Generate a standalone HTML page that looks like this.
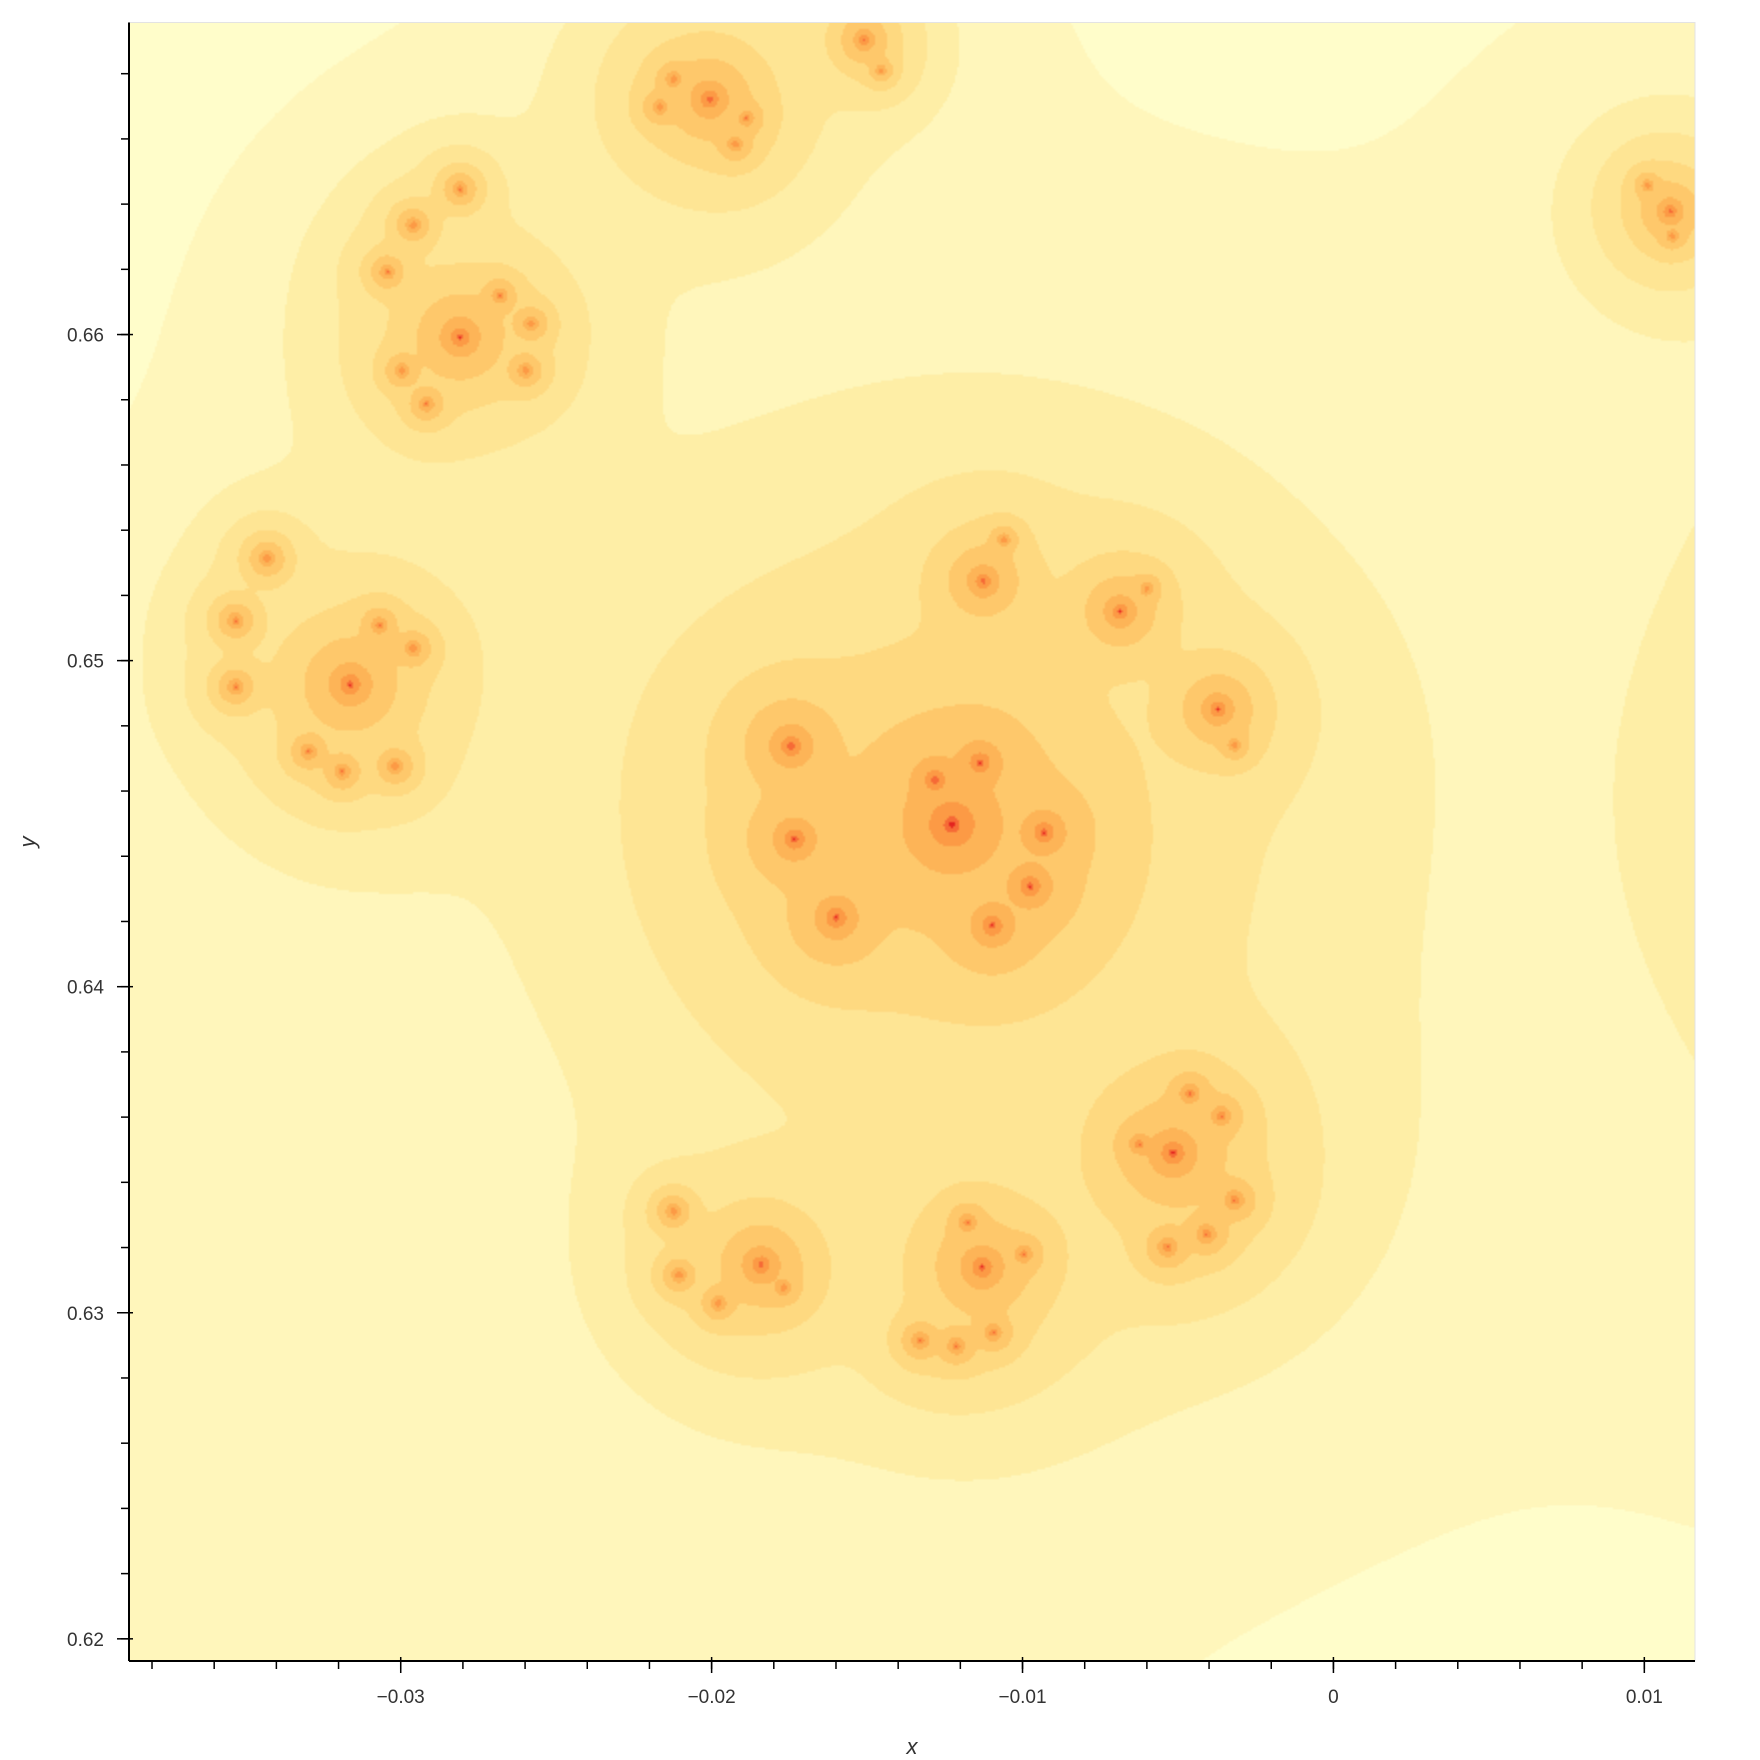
<!DOCTYPE html>
<html><head><meta charset="utf-8">
<style>
html,body{margin:0;padding:0;background:#fff;}
#wrap{position:relative;width:1760px;height:1760px;font-family:"Liberation Sans",sans-serif;}
#plot{position:absolute;left:129px;top:22.5px;width:1566px;height:1638.5px;image-rendering:auto;}
svg{position:absolute;left:0;top:0;}
</style></head>
<body>
<div id="wrap">
<canvas id="plot" width="783" height="820"></canvas>
<svg id="axes" width="1760" height="1760"></svg>
</div>
<script>
// data coordinates of fractal cluster nodes (x, y) and relative sizes
const nodeX = [-0.01227,-0.01282,-0.01137,-0.00931,-0.00975,-0.01097,-0.01599,-0.01733,-0.01744,
 -0.01126,-0.01060,-0.00686,-0.00600,-0.00372,-0.00318,
 -0.00516,-0.00462,-0.00361,-0.00625,-0.00318,-0.00408,-0.00534,
 -0.01130,-0.01177,-0.00996,-0.01329,-0.01213,-0.01094,
 -0.01841,-0.02123,-0.02105,-0.01978,-0.01769,
 -0.03162,-0.03430,-0.03531,-0.03531,-0.03296,-0.03188,-0.03018,-0.02960,-0.03069,
 -0.02809,-0.02809,-0.02960,-0.03043,-0.02996,-0.02917,-0.02599,-0.02581,-0.02682,
 -0.02007,-0.02166,-0.02123,-0.01924,-0.01888,
 -0.01509,-0.01455,
 0.01083,0.01011,0.01090,
 0.0280,-0.0500,-0.0260,0.0000];
const nodeY = [0.64496,0.64633,0.64685,0.64472,0.64306,0.64186,0.64210,0.64451,0.64737,
 0.65243,0.65370,0.65150,0.65220,0.64850,0.64740,
 0.63487,0.63670,0.63601,0.63515,0.63343,0.63239,0.63198,
 0.63136,0.63274,0.63177,0.62912,0.62895,0.62936,
 0.63143,0.63308,0.63112,0.63026,0.63074,
 0.64926,0.65312,0.65122,0.64919,0.64720,0.64658,0.64675,0.65036,0.65108,
 0.65993,0.66447,0.66337,0.66193,0.65890,0.65787,0.65890,0.66034,0.66120,
 0.66723,0.66699,0.66785,0.66585,0.66664,
 0.66905,0.66812,
 0.66379,0.66458,0.66303,
 0.6460,0.6280,0.6030,0.6900];
const nodeSize = [0.9,0.40,0.40,0.40,0.40,0.40,0.40,0.40,0.40,
 0.30,0.12,0.30,0.12,0.30,0.12,
 0.45,0.18,0.18,0.18,0.18,0.18,0.18,
 0.40,0.16,0.16,0.16,0.16,0.16,
 0.35,0.14,0.14,0.14,0.14,
 0.40,0.15,0.15,0.15,0.15,0.15,0.15,0.15,0.15,
 0.37,0.14,0.14,0.14,0.14,0.14,0.14,0.14,0.14,
 0.35,0.14,0.14,0.14,0.14,
 0.20,0.10,
 0.25,0.11,0.11,
 1.3,0.75,1.0,0.7];
// band thresholds (equivalent radius for unit size) and colours, outer -> inner
const bandRadius = [640,430,300,190,115,55,25,9,3.5];
const bandColors = ["#fffdca","#fff6bb","#feeea6","#fee594","#fed980","#fec86b","#fdb457","#fc9a45","#f66a36","#e3241f"];

const X0=-0.03874, X1=0.01163, Y0=0.61932, Y1=0.66957;
const AX_L=129, AX_R=1695, AX_T=22.5, AX_B=1661;
function xScale(v){return AX_L+(v-X0)/(X1-X0)*(AX_R-AX_L);}
function yScale(v){return AX_B-(v-Y0)/(Y1-Y0)*(AX_B-AX_T);}

(function draw(){
  const cv=document.getElementById('plot');const ctx=cv.getContext('2d');
  const W=cv.width,H=cv.height,sc=2;
  const n=nodeX.length;const px=new Float64Array(n),py=new Float64Array(n),s4=new Float64Array(n);
  for(let i=0;i<n;i++){px[i]=xScale(nodeX[i])-AX_L;py[i]=yScale(nodeY[i])-AX_T;const s=nodeSize[i];s4[i]=s*s*s*s;}
  const th=bandRadius.map(r=>1/(r*r*r*r));
  const cols=bandColors.map(c=>[parseInt(c.substr(1,2),16),parseInt(c.substr(3,2),16),parseInt(c.substr(5,2),16)]);
  const img=ctx.createImageData(W,H);const d=img.data;
  for(let j=0;j<H;j++){const y=(j+0.5)*sc;
    for(let i=0;i<W;i++){const x=(i+0.5)*sc;let S=0;
      for(let k=0;k<n;k++){const dx=x-px[k],dy=y-py[k];const q=dx*dx+dy*dy+1;S+=s4[k]/(q*q);}
      let b=0;while(b<th.length&&S>th[b])b++;
      const c=cols[b];const o=(j*W+i)*4;d[o]=c[0];d[o+1]=c[1];d[o+2]=c[2];d[o+3]=255;}}
  ctx.putImageData(img,0,0);
})();

(function axes(){
  const svg=document.getElementById('axes');const NS='http://www.w3.org/2000/svg';
  function el(t,a,p){const e=document.createElementNS(NS,t);for(const k in a)e.setAttribute(k,a[k]);(p||svg).appendChild(e);return e;}
  el('rect',{x:AX_L,y:AX_T,width:AX_R-AX_L,height:AX_B-AX_T,fill:'none',stroke:'#e3e3e3','stroke-width':1});
  const xl=el('line',{x1:AX_L,y1:AX_B,x2:AX_R,y2:AX_B,stroke:'#000','stroke-width':2});
  
  const yl=el('line',{x1:AX_L,y1:AX_T,x2:AX_L,y2:AX_B,stroke:'#000','stroke-width':2});
  
  const xMajor=[-0.03,-0.02,-0.01,0,0.01];const xLabels=['\u22120.03','\u22120.02','\u22120.01','0','0.01'];
  const yMajor=[0.62,0.63,0.64,0.65,0.66];const yLabels=['0.62','0.63','0.64','0.65','0.66'];
  for(let v=-0.038;v<=0.0116;v+=0.002){const x=xScale(v);el('line',{x1:x,y1:AX_B,x2:x,y2:AX_B+8,stroke:'#000','stroke-width':1.5});}
  for(let v=0.620;v<=0.6696;v+=0.002){const y=yScale(v);el('line',{x1:AX_L,y1:y,x2:AX_L-8,y2:y,stroke:'#000','stroke-width':1.5});}
  xMajor.forEach((v,i)=>{const x=xScale(v);el('line',{x1:x,y1:AX_B-4,x2:x,y2:AX_B+12,stroke:'#000','stroke-width':1.5});
    const t=el('text',{x:x,y:AX_B+42,'text-anchor':'middle','font-size':19,fill:'#333'});t.textContent=xLabels[i];
    });
  yMajor.forEach((v,i)=>{const y=yScale(v);el('line',{x1:AX_L+4,y1:y,x2:AX_L-12,y2:y,stroke:'#000','stroke-width':1.5});
    const t=el('text',{x:AX_L-25,y:y+7,'text-anchor':'end','font-size':19,fill:'#333'});t.textContent=yLabels[i];
    });
  const xt=el('text',{x:(AX_L+AX_R)/2,y:1754,'text-anchor':'middle','font-size':22,'font-style':'italic',fill:'#333'});xt.textContent='x';
  
  const yt=el('text',{x:0,y:0,'text-anchor':'middle','font-size':22,'font-style':'italic',fill:'#333',transform:'translate(35,842) rotate(-90)'});yt.textContent='y';
  
})();
</script>
</body></html>
